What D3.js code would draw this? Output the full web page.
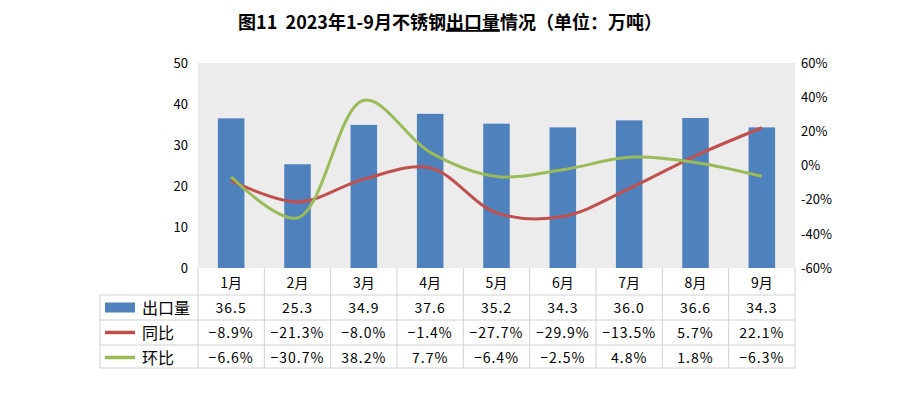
<!DOCTYPE html><html><head><meta charset="utf-8"><script src="https://cdn.jsdelivr.net/npm/d3@7"></script>
<style>body{margin:0;background:#fff}text{font-family:"Noto Sans CJK SC","DejaVu Sans",sans-serif}</style></head><body><svg id="c" width="900" height="416"></svg>
<script>
const months=["1月","2月","3月","4月","5月","6月","7月","8月","9月"];
const exportVol=[36.5,25.3,34.9,37.6,35.2,34.3,36.0,36.6,34.3];
const yoy=[-8.9,-21.3,-8.0,-1.4,-27.7,-29.9,-13.5,5.7,22.1];
const mom=[-6.6,-30.7,38.2,7.7,-6.4,-2.5,4.8,1.8,-6.3];
const leftTicks=[0,10,20,30,40,50];
const rightTicks=[-60,-40,-20,0,20,40,60];
const svg=d3.select("#c");
const L=198,R=795,T=63,B=268;
const x=d3.scaleBand().domain(months).range([L,R]);
const y=d3.scaleLinear().domain([0,50]).range([B,T]);
const y2=d3.scaleLinear().domain([-60,60]).range([B,T]);
svg.append("text").attr("x",450).attr("y",29).attr("text-anchor","middle").attr("font-size",18).attr("font-weight","bold").attr("xml:space","preserve")
 .html('图11&#160;&#160;2023年1-9月不锈钢<tspan text-decoration="underline">出口量</tspan>情况（单位：万吨）');
svg.append("rect").attr("x",L).attr("y",T).attr("width",R-L).attr("height",B-T).attr("fill","#ececec");
svg.selectAll(".b").data(exportVol).join("rect").attr("x",(d,i)=>x(months[i])+x.bandwidth()*0.3).attr("width",x.bandwidth()*0.4)
 .attr("y",d=>y(d)).attr("height",d=>B-y(d)).attr("fill","#4f81bd");
const la=svg.append("g").attr("transform",`translate(${L},0)`).call(d3.axisLeft(y).tickValues(leftTicks).tickSize(0).tickPadding(10));
const ra=svg.append("g").attr("transform",`translate(${R},0)`).call(d3.axisRight(y2).tickValues(rightTicks).tickSize(0).tickPadding(6).tickFormat(d=>d+"%"));
[la,ra].forEach(a=>{a.select(".domain").remove();a.selectAll("text").attr("font-size",13).attr("font-family","DejaVu Sans").attr("fill","#000");});
const line=d3.line().x((d,i)=>x(months[i])+x.bandwidth()/2).y(d=>y2(d)).curve(d3.curveCatmullRom.alpha(0.5));
svg.append("path").attr("d",line(yoy)).attr("fill","none").attr("stroke","#c0504d").attr("stroke-width",3);
svg.append("path").attr("d",line(mom)).attr("fill","none").attr("stroke","#9bbb59").attr("stroke-width",3);
const rows=[295,320,345,368];const TL=100;
const g=svg.append("g").attr("stroke","#d0d0d0").attr("stroke-width",1);
months.forEach((m,i)=>g.append("line").attr("x1",x(m)).attr("x2",x(m)).attr("y1",B).attr("y2",368));
g.append("line").attr("x1",R).attr("x2",R).attr("y1",B).attr("y2",368);
g.append("line").attr("x1",TL).attr("x2",TL).attr("y1",295).attr("y2",368);
rows.forEach(r=>g.append("line").attr("x1",TL).attr("x2",R).attr("y1",r).attr("y2",r));
svg.selectAll(".m").data(months).join("text").attr("x",d=>x(d)+x.bandwidth()/2).attr("y",288).attr("text-anchor","middle").attr("font-size",14).text(d=>d);
const fmt=v=>(v<0?"−":"")+Math.abs(v).toFixed(1)+"%";
[[exportVol,d=>d.toFixed(1)],[yoy,fmt],[mom,fmt]].forEach(([arr,f],r)=>{
 svg.selectAll(".r"+r).data(arr).join("text").attr("x",(d,i)=>x(months[i])+x.bandwidth()/2).attr("y",rows[r]+18).attr("text-anchor","middle").attr("font-size",14).attr("letter-spacing",1).text(f);
});
const names=["出口量","同比","环比"];
names.forEach((n,r)=>{
 const cy=rows[r]+12.5;
 if(r==0) svg.append("rect").attr("x",105).attr("y",cy-5).attr("width",30).attr("height",10).attr("fill","#4f81bd");
 else svg.append("line").attr("x1",105).attr("x2",135).attr("y1",cy).attr("y2",cy).attr("stroke",r==1?"#c0504d":"#9bbb59").attr("stroke-width",3.5);
 svg.append("text").attr("x",142).attr("y",cy+6).attr("font-size",16).text(n);
});
</script></body></html>
